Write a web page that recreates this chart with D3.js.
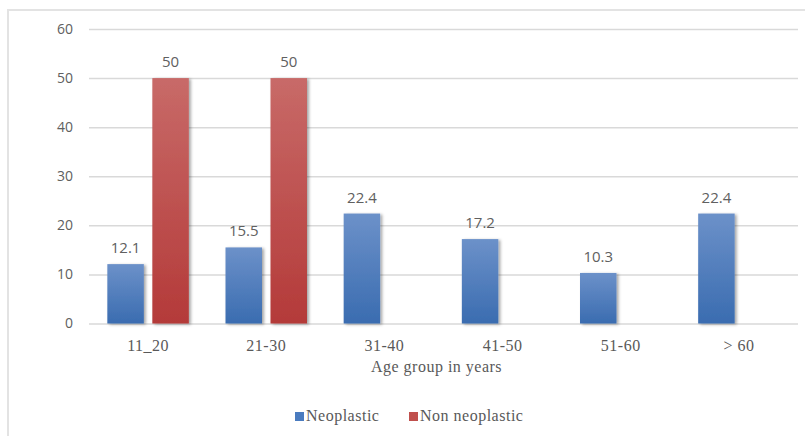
<!DOCTYPE html>
<html>
<head>
<meta charset="utf-8">
<script src="https://cdn.jsdelivr.net/npm/d3@7"></script>
<style>
  html, body { margin: 0; padding: 0; background: #fff; }
  svg { display: block; }
</style>
</head>
<body>
<svg id="chart" width="805" height="436"></svg>
<script>
// Age distribution of lesions, percent per age group
const categories = ["11_20", "21-30", "31-40", "41-50", "51-60", "> 60"];
const neoplastic = [12.1, 15.5, 22.4, 17.2, 10.3, 22.4];
const nonNeoplastic = [50, 50, null, null, null, null];
const yTicks = [0, 10, 20, 30, 40, 50, 60];
const seriesNames = ["Neoplastic", "Non neoplastic"];

const svg = d3.select("#chart");
const W = 805, H = 436;
const plot = { left: 89, right: 798, top: 29, bottom: 323.5 };

const serif = "'Liberation Serif', 'Times New Roman', serif";
const sans = "'Open Sans', 'Liberation Sans', sans-serif";
const textColor = "#595959";

// Outer frame (only top and left edges are visible)
svg.append("path")
  .attr("d", `M8,${H} L8,10 L${W},10`)
  .attr("fill", "none")
  .attr("stroke", "#e3e3e3")
  .attr("stroke-width", 2);

const defs = svg.append("defs");
const gradBlue = defs.append("linearGradient").attr("id", "gBlue")
  .attr("x1", 0).attr("y1", 0).attr("x2", 0).attr("y2", 1);
gradBlue.append("stop").attr("offset", "0%").attr("stop-color", "#6c91c9");
gradBlue.append("stop").attr("offset", "100%").attr("stop-color", "#3a6cb0");
const gradRed = defs.append("linearGradient").attr("id", "gRed")
  .attr("x1", 0).attr("y1", 0).attr("x2", 0).attr("y2", 1);
gradRed.append("stop").attr("offset", "0%").attr("stop-color", "#c86a68");
gradRed.append("stop").attr("offset", "100%").attr("stop-color", "#b43a39");
const shadow = defs.append("filter").attr("id", "shadow")
  .attr("x", "-20%").attr("y", "-5%").attr("width", "150%").attr("height", "115%");
shadow.append("feDropShadow").attr("dx", 2).attr("dy", 1)
  .attr("stdDeviation", 1.4).attr("flood-color", "#000").attr("flood-opacity", 0.35);

const x = d3.scaleBand().domain(categories).range([plot.left, plot.right]).paddingInner(0).paddingOuter(0);
const y = d3.scaleLinear().domain([0, 60]).range([plot.bottom, plot.top]);
const barW = 36.5, gap = 8.5;

// Gridlines + y tick labels
const yAxis = d3.axisLeft(y).tickValues(yTicks).tickSize(-(plot.right - plot.left)).tickPadding(16);
const gy = svg.append("g").attr("transform", `translate(${plot.left},0)`).call(yAxis);
gy.select(".domain").remove();
gy.selectAll(".tick line").attr("stroke", "#d9d9d9").attr("stroke-width", 1.5);
gy.selectAll(".tick text")
  .attr("fill", "#606060").style("font-family", sans).style("font-size", "14px");

// Category axis labels
const xAxis = d3.axisBottom(x).tickSize(0).tickPadding(0);
const gx = svg.append("g").attr("transform", `translate(0,${plot.bottom})`).call(xAxis);
gx.select(".domain").remove();
gx.selectAll(".tick text")
  .attr("dy", 0).attr("y", 27)
  .attr("fill", textColor).style("font-family", serif).style("font-size", "16px")
  .style("letter-spacing", "0.5px");

// Bars
const series = [
  { name: seriesNames[0], values: neoplastic, fill: "url(#gBlue)", offset: -(gap / 2 + barW) },
  { name: seriesNames[1], values: nonNeoplastic, fill: "url(#gRed)", offset: gap / 2 }
];
series.forEach(s => {
  const data = categories.map((c, i) => ({ c, v: s.values[i] })).filter(d => d.v != null);
  const center = d => x(d.c) + x.bandwidth() / 2;
  svg.append("g").attr("filter", "url(#shadow)")
    .selectAll("rect").data(data).join("rect")
    .attr("x", d => center(d) + s.offset)
    .attr("width", barW)
    .attr("y", d => y(d.v))
    .attr("height", d => y(0) - y(d.v))
    .attr("fill", s.fill);
  svg.append("g").selectAll("text").data(data).join("text")
    .attr("x", d => center(d) + s.offset + barW / 2)
    .attr("y", d => y(d.v) - 11)
    .attr("text-anchor", "middle")
    .attr("fill", "#606060")
    .style("font-family", sans).style("font-size", "15px")
    .text(d => d.v);
});

// Axis title
svg.append("text")
  .attr("x", (plot.left + plot.right) / 2 - 7).attr("y", 372)
  .attr("text-anchor", "middle").attr("fill", textColor)
  .style("font-family", serif).style("font-size", "16px").style("letter-spacing", "0.5px")
  .text("Age group in years");

// Legend
const legend = svg.append("g");
const legendItems = [
  { name: seriesNames[0], color: "#4a7bbf", x: 295 },
  { name: seriesNames[1], color: "#c0504d", x: 409 }
];
legendItems.forEach(it => {
  legend.append("rect").attr("x", it.x).attr("y", 412).attr("width", 9).attr("height", 9).attr("fill", it.color);
  legend.append("text").attr("x", it.x + 11).attr("y", 420.5)
    .attr("fill", textColor)
    .style("font-family", serif).style("font-size", "16px").style("letter-spacing", "0.5px")
    .text(it.name);
});
</script>
</body>
</html>
